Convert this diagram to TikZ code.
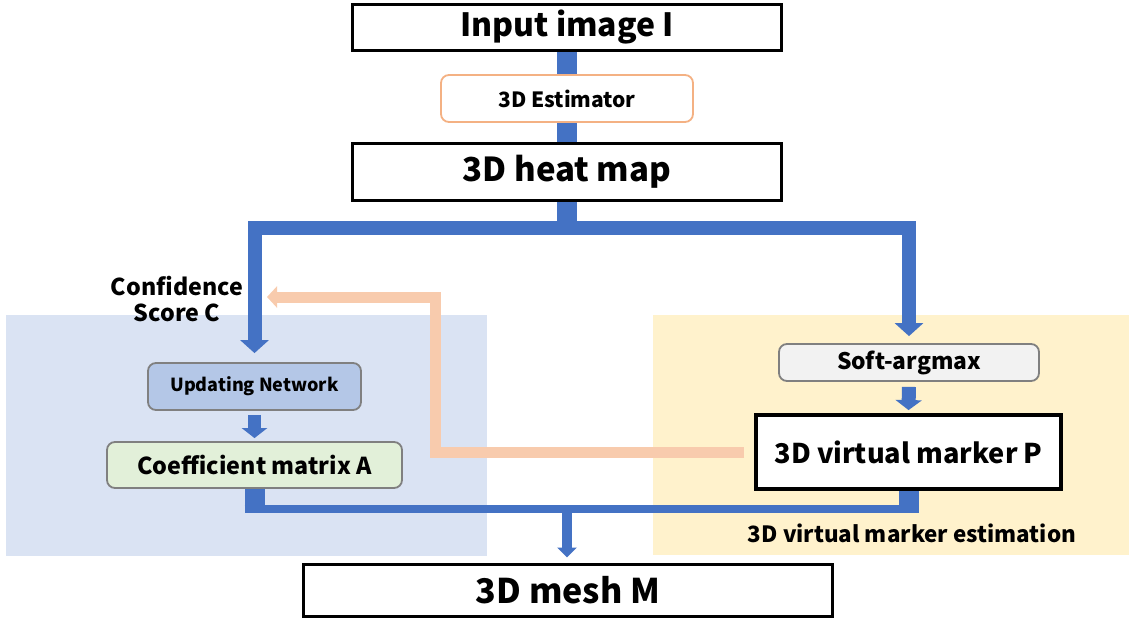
\documentclass[tikz,border=0pt]{standalone}
\usepackage{fontspec}
\setmainfont{Noto Sans CJK JP}
\usetikzlibrary{arrows.meta,calc}
\definecolor{arrblue}{HTML}{4472C4}
\definecolor{arrorange}{HTML}{F8CBAD}
\definecolor{bgblue}{HTML}{DAE3F3}
\definecolor{bgyellow}{HTML}{FFF2CC}
\definecolor{updfill}{HTML}{B4C7E7}
\definecolor{coeffill}{HTML}{E2F0D9}
\definecolor{softfill}{HTML}{F2F2F2}
\definecolor{estborder}{HTML}{F4B183}
\definecolor{grayborder}{HTML}{808080}
\newcommand{\fs}[1]{\fontsize{#1}{#1}\selectfont\bfseries}
\tikzset{
  mainbox/.style={draw=black, line width=3pt, fill=white, inner sep=0pt},
  softbox/.style={draw=grayborder, line width=1.8pt, rounded corners=8pt, inner sep=0pt},
  bluelink/.style={draw=arrblue, line width=#1},
  bluearrow/.style={draw=arrblue, line width=#1},
  lbl/.style={inner sep=0pt, align=center}
}
\begin{document}
\begin{tikzpicture}[x=1pt,y=-1pt]
\useasboundingbox (0,0) rectangle (1130,619);
% background regions
\fill[bgblue] (6,315) rectangle (487,556);
\fill[bgyellow] (653,315) rectangle (1129,555);

% nodes
\node[mainbox, minimum width=429pt, minimum height=46pt] (input) at (567,27.5) {\fs{32}Input image I};
\node[mainbox, minimum width=429pt, minimum height=57pt] (heat) at (567,172) {\fs{33}3D heat map};
\node[mainbox, minimum width=529pt, minimum height=52pt] (mesh) at (568,590) {\fs{34}3D mesh M};
\node[mainbox, line width=3.8pt, minimum width=305pt, minimum height=74pt] (vm) at (908.5,452) {\fs{27.2}3D virtual marker P};

% top connector (behind estimator)
\draw[bluelink=20pt] (input.south) -- (heat.north);
\node[softbox, draw=estborder, fill=white, minimum width=252pt, minimum height=47pt] (est) at (567,98.5) {\fs{21}3D Estimator};

\node[softbox, fill=updfill, minimum width=213pt, minimum height=47pt] (upd) at (254.5,386.5) {\fs{18}Updating Network};
\node[softbox, fill=coeffill, minimum width=295pt, minimum height=46pt] (coef) at (254.5,465) {\fs{23.3}Coefficient matrix A};
\node[softbox, fill=softfill, minimum width=260pt, minimum height=37pt] (soft) at (909,362.5) {\fs{22.8}Soft-argmax};

% labels
\node[lbl] (conf) at (177,299) {\fs{23.2}Confidence\\[7pt]\fs{23.2}Score C};
\node[lbl] (est3d) at (912,533) {\fs{22.4}3D virtual marker estimation};

% split from heat map
\coordinate (split) at (567,228);
\draw[bluelink=20pt] (heat.south) -- (split);
\draw[bluelink=14pt, -{Triangle[width=28pt,length=13pt]}, line join=miter, shorten >=9pt]
  (split) -| (upd.north);
\draw[bluelink=14pt, -{Triangle[width=28pt,length=13pt]}, line join=miter, shorten >=7pt]
  (split) -| (soft.north);

% small arrows
\draw[bluearrow=13pt, -{Triangle[width=25pt,length=10pt]}, shorten <=4pt, shorten >=3pt] (upd.south) -- (coef.north);
\draw[bluearrow=14pt, -{Triangle[width=26pt,length=10pt]}, shorten <=5pt, shorten >=3pt] (soft.south) -- (vm.north);

% bottom merge
\coordinate (mL) at (coef.south |- 0,509);
\coordinate (mR) at (vm.south |- 0,509);
\coordinate (mC) at (567,509);
\draw[bluelink=20pt] (coef.south) -- ($(mL)+(0,4)$);
\draw[bluelink=20pt] (vm.south) -- ($(mR)+(0,4)$);
\draw[bluelink=8pt] ($(mL)+(-10,0)$) -- ($(mR)+(10,0)$);
\draw[bluearrow=10pt, -{Triangle[width=19pt,length=10pt]}, shorten >=5pt] ($(mC)+(0,3)$) -- (mesh.north -| mC);

% orange feedback arrow
\coordinate (oc) at (435,297);
\coordinate (otip) at (267,297);
\draw[draw=arrorange, line width=11pt, line join=miter, -{Triangle[width=21pt,length=10pt]}, shorten <=10pt]
  (vm.west) -| (oc) -- (otip);
\end{tikzpicture}
\end{document}
